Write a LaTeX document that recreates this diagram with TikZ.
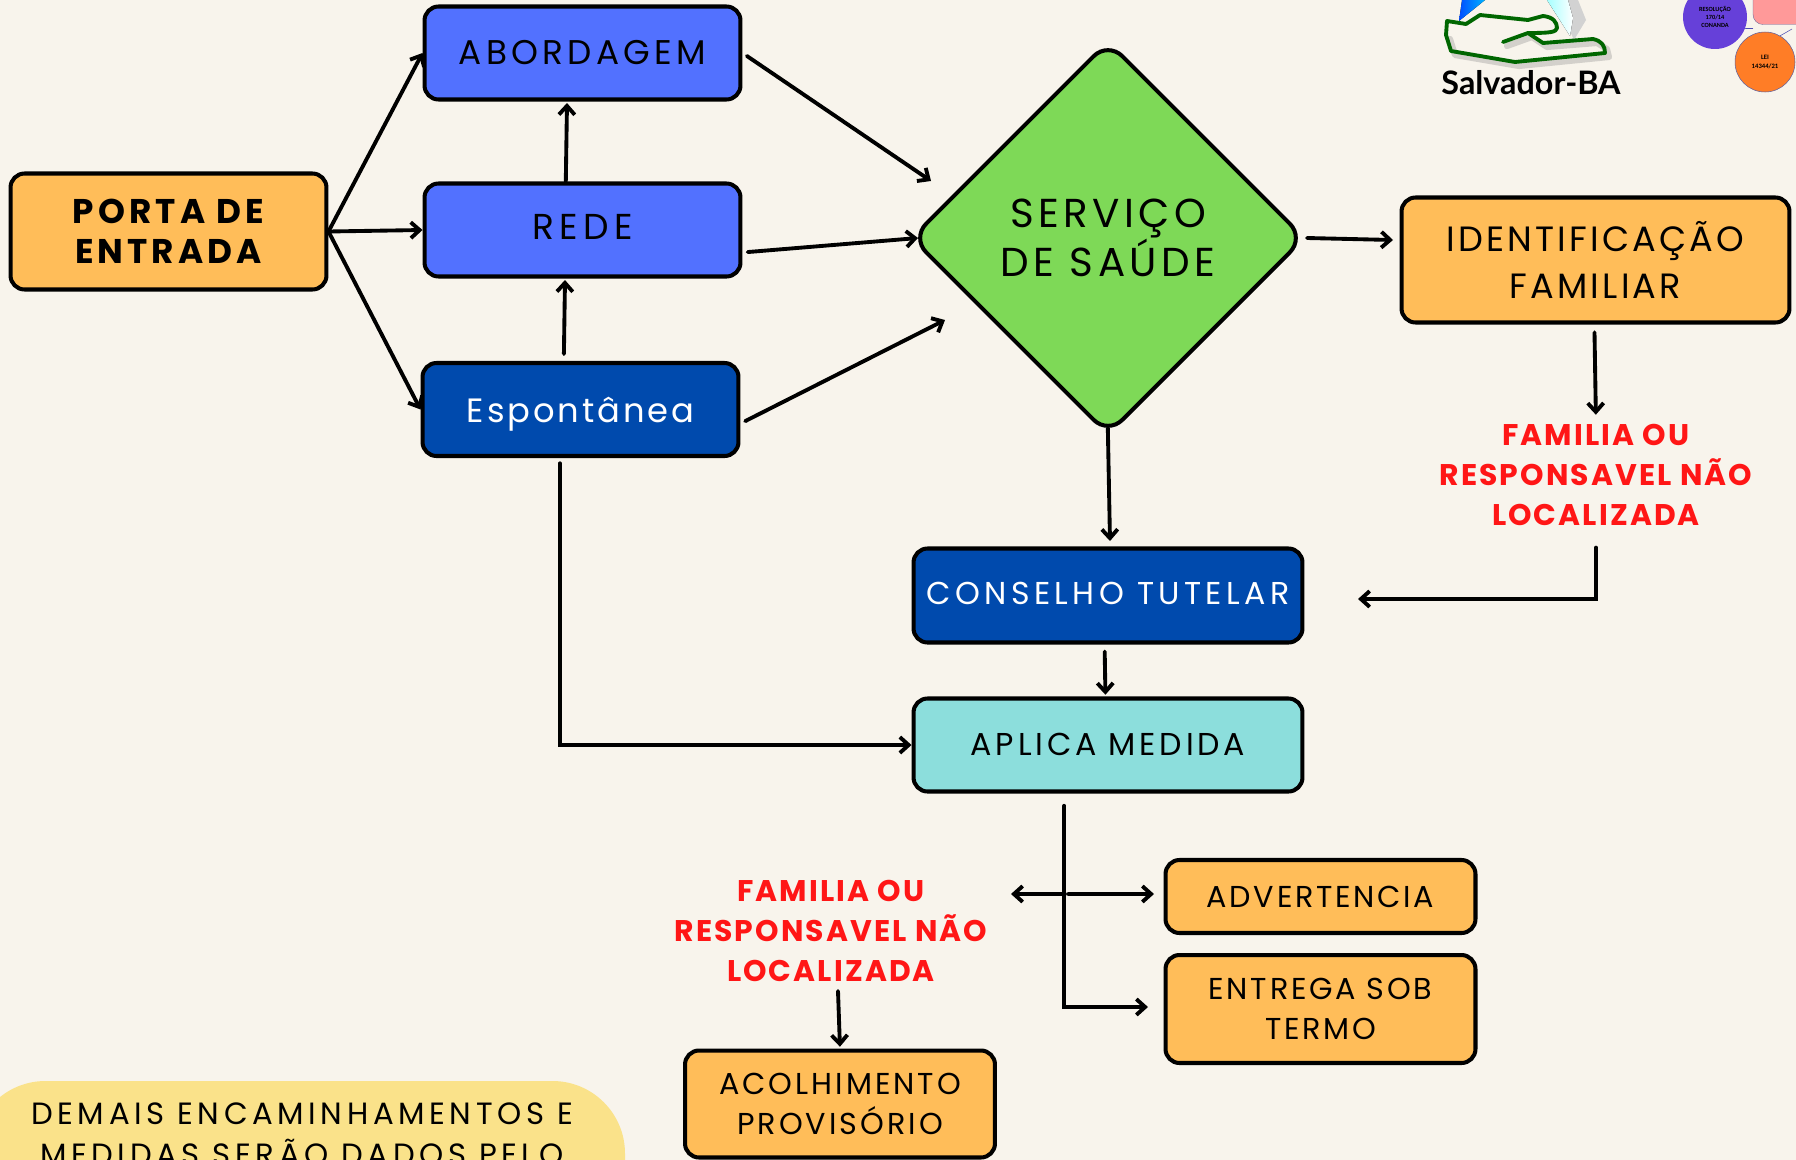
\documentclass[tikz,border=0pt]{standalone}
\usepackage{fontspec}
\setmainfont{Poppins}
\newfontfamily\logofont{Lato}
\newfontfamily\tinyfont{Carlito}
\usetikzlibrary{arrows.meta,shapes.geometric}
\definecolor{paper}{HTML}{F8F4EC}
\definecolor{laranja}{HTML}{FFBD59}
\definecolor{azul}{HTML}{5271FF}
\definecolor{azulescuro}{HTML}{004AAD}
\definecolor{turquesa}{HTML}{8CDEDC}
\definecolor{verde}{HTML}{7ED957}
\definecolor{vermelho}{HTML}{FF1616}
\definecolor{amarelo}{HTML}{FAE28A}
\newcommand{\txtsize}[3]{\fontsize{#1}{#2}\selectfont\addfontfeature{LetterSpace=#3}}
\begin{document}
\begin{tikzpicture}[x=0.02cm, y=-0.02cm, >={Straight Barb[length=5pt,width=9pt]},
    line cap=round,
    arr/.style={->, line width=2.2pt},
    caixa/.style={draw=black, line width=2.3pt, rounded corners=0.28cm, align=center, inner sep=0pt, text=black},
    laranjabox/.style={caixa, fill=laranja, minimum width=6.2cm, font=\txtsize{17.2}{22.7}{9}},
    azulbox/.style={caixa, fill=azul, minimum width=6.32cm, minimum height=1.86cm, font=\txtsize{19.5}{26}{12.5}},
    aviso/.style={align=center, inner sep=0pt, text=vermelho, font=\txtsize{17}{23}{7}\bfseries}]
    \useasboundingbox (0,0) rectangle (1796,1160);
    \fill[paper] (0,0) rectangle (1796,1160);

    % logo
    \fill[gray!35] (1556,0) -- (1578,0) -- (1586,20) -- (1574,40) -- cycle;
    \fill[left color=blue!70!cyan, right color=cyan!70!blue] (1459,21) -- (1462,0) -- (1485,0) -- cycle;
    \fill[left color=cyan!35, right color=white] (1547,0) -- (1568,0) -- (1573,18) -- (1570,36) -- cycle;
    \draw[line width=3.5pt, gray, opacity=0.3, line join=round] (1507,46) -- (1532,37) -- (1547,47) -- (1597,43) -- (1607,49) -- (1609,57) -- (1519,66) -- (1455,55) -- (1450,39);
    \draw[line width=2.2pt, green!40!black, line join=round] (1503,42) -- (1528,33) -- (1543,43) -- (1593,39) .. controls (1602,41) and (1605,46) .. (1605,53) -- (1515,62) -- (1451,51) -- (1446,35) -- (1447,21) -- (1466,24) -- (1480,15) -- (1528,20) -- (1543,16) .. controls (1553,17) and (1557,22) .. (1557,28) .. controls (1556,32) and (1552,33) .. (1528,33);
    \node[inner sep=0pt, font=\logofont\bfseries\fontsize{18.4}{20}\selectfont] (logo) at (1531,83) {Salvador-BA};

    % circulos
    \node[fill=red!40!white, draw=blue!20!gray, line width=0.2pt, rounded corners=0.2cm, minimum width=1.6cm, minimum height=1.1cm, inner sep=0pt] (rosa) at (1793,-3) {};
    \node[circle, fill=blue!60!violet!75!white, inner sep=0pt, minimum size=1.28cm, align=center, font=\tinyfont\bfseries\fontsize{3.6}{4.8}\selectfont] (resolucao) at (1715,17) {RESOLUÇÃO\\170/14\\CONANDA};
    \node[circle, fill=orange!80!red!85!white, draw=blue!25!gray, line width=0.3pt, inner sep=0pt, minimum size=1.2cm, align=center, font=\tinyfont\bfseries\fontsize{3.8}{5.4}\selectfont] (lei) at (1765,62) {LEI\\14344/21};
    \draw[blue!40!gray, line width=0.3pt] (resolucao.-20) -- (rosa.west |- resolucao.-20);
    \draw[blue!40!gray, line width=0.3pt] (lei.60) -- (1792,29);

    % caixas
    \node[caixa, fill=laranja, minimum width=6.32cm, minimum height=2.32cm, font=\txtsize{19.5}{23}{12}\bfseries] (porta) at (168.5,231.5) {PORTA DE\\ENTRADA};
    \node[azulbox] (abordagem) at (582.5,53) {ABORDAGEM};
    \node[azulbox, text depth=4pt, font=\txtsize{20.5}{26}{15}] (rede) at (582.5,230) {REDE};
    \node[azulbox, fill=azulescuro, text=white, text depth=0pt, font=\txtsize{19.2}{26}{8.5}] (espontanea) at (580.5,409.5) {Espontânea};
    \node[draw=black, fill=verde, shape=diamond, aspect=1, line width=2.3pt, rounded corners=0.4cm, minimum width=7.88cm, minimum height=7.88cm, inner sep=0pt, align=center, font=\txtsize{23}{25.5}{11}] (saude) at (1108,238) {SERVIÇO\\DE SAÚDE};
    \node[caixa, fill=laranja, minimum width=7.76cm, minimum height=2.5cm, font=\txtsize{20}{27}{9}] (identificacao) at (1595.5,260) {IDENTIFICAÇÃO\\FAMILIAR};
    \node[aviso] (familia) at (1596,475) {FAMILIA OU\\RESPONSAVEL NÃO\\LOCALIZADA};
    \node[caixa, fill=azulescuro, text=white, minimum width=7.78cm, minimum height=1.88cm, text depth=2.6pt, font=\txtsize{18}{23}{14}] (conselho) at (1108,595.5) {CONSELHO TUTELAR};
    \node[caixa, fill=turquesa, minimum width=7.78cm, minimum height=1.86cm, text depth=1.3pt, font=\txtsize{18}{23}{12}] (aplica) at (1108,745) {APLICA MEDIDA};
    \node[laranjabox, minimum height=1.46cm] (advertencia) at (1320.5,896.5) {ADVERTENCIA};
    \node[laranjabox, minimum height=2.16cm] (entrega) at (1320.5,1009) {ENTREGA SOB\\TERMO};
    \node[aviso] (familiadois) at (831,931) {FAMILIA OU\\RESPONSAVEL NÃO\\LOCALIZADA};
    \node[laranjabox, minimum height=2.14cm, font=\txtsize{17.2}{22.7}{10}] (acolhimento) at (840,1104) {ACOLHIMENTO\\PROVISÓRIO};
    \fill[amarelo, rounded corners=1.45cm] (-27,1081) rectangle (625,1300);
    \node[align=center, inner sep=0pt, anchor=north, font=\txtsize{17.5}{23.5}{15}] (demais) at (302,1102) {DEMAIS ENCAMINHAMENTOS E\\MEDIDAS SERÃO DADOS PELO};

    % pontas livres
    \coordinate (abordagemfim) at (931,181);
    \coordinate (redefim) at (918,238);
    \coordinate (espfim) at (945,320);
    \coordinate (subida) at (567,103);
    \coordinate (subidadois) at (565,280);
    \coordinate (idfim) at (1393,240);
    \coordinate (descida) at (1110,541);
    \coordinate (retorno) at (1358,599);
    \coordinate (tronco) at (1065,894);
    \coordinate (esquerda) at (1011,894);
    \coordinate (direita) at (1154,894);
    \coordinate (entregafim) at (1148,1007);
    \coordinate (avisosaida) at (838,991);

    \draw[arr] (porta.east) -- (abordagem.west);
    \draw[arr] (porta.east) -- (rede.west);
    \draw[arr] (porta.east) -- (espontanea.west);

    \draw[arr] (rede.109) -- (subida);
    \draw[arr, shorten <=4pt] (espontanea.109) -- (subidadois);

    \draw[arr, shorten <=3pt] (abordagem.east) -- (abordagemfim);
    \draw[arr, shorten <=3pt] (rede.-8) -- (redefim);
    \draw[arr, shorten <=3pt] (espontanea.-5) -- (espfim);

    \draw[arr] (saude.-0.5) -- (idfim);
    \draw[arr, shorten <=-5pt] (saude.south) -- (descida);
    \draw[arr, shorten <=4.5pt, shorten >=5pt] (identificacao.-91) -- (familia.north);
    \draw[arr, shorten <=12pt] (familia.south) |- (retorno);
    \draw[arr, shorten <=4pt, shorten >=1pt] (conselho.-94) -- (aplica.93);
    \draw[arr, shorten <=3pt] (espontanea.-113) |- (aplica.west);

    \draw[arr, shorten <=7pt] (aplica.-132) |- (entregafim);
    \draw[arr] (tronco) -- (esquerda);
    \draw[arr, shorten <=2pt] (tronco) -- (direita);
    \draw[arr, shorten >=1pt] (avisosaida) -- (acolhimento.north);
\end{tikzpicture}
\end{document}
